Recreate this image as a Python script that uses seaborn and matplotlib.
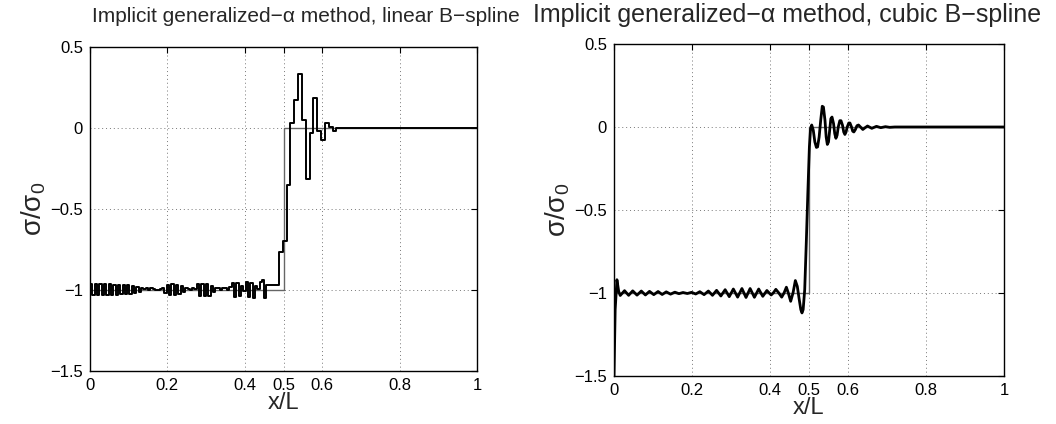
import matplotlib
matplotlib.use("Agg")
import matplotlib.pyplot as plt
import pandas as pd
import seaborn as sns
from matplotlib.ticker import FixedLocator, FuncFormatter

# exact solution (step at x/L = 0.5)
exact_x = [0.0, 0.5, 1.0]
exact_y = [-1.0, 0.0, 0.0]

# linear B-spline: piecewise constant stress, cell left edges and values
lin_edges = [
    0.000, 0.006, 0.012, 0.018, 0.024, 0.030, 0.036, 0.042, 0.048, 0.054,
    0.060, 0.066, 0.072, 0.078, 0.084, 0.090, 0.096, 0.102, 0.108, 0.114,
    0.120, 0.126, 0.132,
    0.138, 0.144, 0.150, 0.156, 0.162, 0.168, 0.174, 0.180, 0.186,
    0.192, 0.198, 0.204, 0.210, 0.216, 0.222, 0.228, 0.234, 0.240, 0.246,
    0.252, 0.258, 0.264, 0.270,
    0.276, 0.282, 0.288, 0.294, 0.300, 0.306, 0.312, 0.318, 0.324,
    0.330, 0.336, 0.342, 0.348, 0.354, 0.360,
    0.366, 0.372, 0.378, 0.384, 0.390, 0.396, 0.402, 0.408, 0.414, 0.420,
    0.426, 0.432, 0.438, 0.444, 0.450,
    0.456, 0.489, 0.499, 0.510, 0.518, 0.527, 0.538, 0.548, 0.559, 0.568,
    0.577, 0.587, 0.596, 0.607, 0.618, 0.629, 0.636, 0.655, 0.670, 1.000,
]
lin_vals = [
    -0.965, -1.030, -0.965, -1.030, -0.965, -1.030, -0.965, -1.030, -0.966, -1.029,
    -0.967, -1.028, -0.968, -1.027, -0.970, -1.025, -0.972, -1.022, -0.975, -1.020,
    -0.980, -1.012, -0.988,
    -0.995, -0.990, -1.000, -0.988, -0.995, -1.000, -1.003, -0.992, -0.985,
    -1.020, -0.968, -1.032, -0.965, -1.032, -0.970, -1.025, -0.978, -1.012, -0.990,
    -0.995, -1.000, -0.990, -0.995,
    -0.965, -1.035, -0.960, -1.040, -0.962, -1.035, -0.975, -1.015, -0.990,
    -0.985, -1.000, -0.990, -0.985, -1.000, -0.982,
    -0.955, -1.042, -0.958, -1.040, -0.975, -1.005, -0.950, -1.045, -0.955, -1.050,
    -0.975, -0.995, -0.950, -0.940, -1.050,
    -0.968, -0.764, -0.696, -0.350, 0.030, 0.174, 0.333, 0.050, -0.313, -0.029,
    0.188, -0.019, -0.075, 0.033, 0.008, -0.020, 0.003, -0.002, 0.000, 0.000,
]

# cubic B-spline: smooth stress
cub_x = [
    0.000, 0.003, 0.0075, 0.012, 0.016, 0.027, 0.0375, 0.048, 0.059, 0.070,
    0.0805, 0.091, 0.102, 0.113, 0.1235, 0.134, 0.145, 0.156, 0.1665, 0.177,
    0.188, 0.199, 0.2095, 0.220, 0.231, 0.242, 0.2525, 0.263, 0.274, 0.285,
    0.2955, 0.306, 0.317, 0.328, 0.3385, 0.349, 0.360, 0.371, 0.3815, 0.392,
    0.403, 0.409, 0.415, 0.422, 0.430, 0.436, 0.442, 0.447, 0.453, 0.459,
    0.465, 0.470, 0.475, 0.479, 0.482, 0.485, 0.489, 0.493, 0.497, 0.501,
    0.504, 0.507, 0.511, 0.515, 0.519, 0.522, 0.526, 0.530, 0.534, 0.537,
    0.541, 0.544, 0.547, 0.550, 0.553, 0.556, 0.559, 0.563, 0.566, 0.569,
    0.572, 0.575, 0.579, 0.582, 0.586, 0.589, 0.592, 0.595, 0.598, 0.602,
    0.605, 0.609, 0.612, 0.615, 0.619, 0.623, 0.627, 0.632, 0.638, 0.644,
    0.650, 0.661, 0.673, 0.684, 0.696, 0.707, 0.720, 1.000,
]
cub_y = [
    -1.500, -1.100, -0.920, -0.990, -1.015, -0.986, -1.014, -0.987, -1.013, -0.988,
    -1.012, -0.990, -1.010, -0.991, -1.009, -0.993, -1.007, -0.995, -1.004, -0.997,
    -1.003, -0.996, -1.006, -0.992, -1.010, -0.988, -1.014, -0.984, -1.018, -0.980,
    -1.022, -0.976, -1.025, -0.973, -1.027, -0.973, -1.026, -0.976, -1.020, -0.985,
    -1.012, -0.998, -0.978, -0.998, -1.025, -1.000, -0.965, -1.000, -1.050, -1.000,
    -0.925, -0.960, -1.040, -1.100, -1.120, -1.100, -0.980, -0.700, -0.400, -0.120,
    -0.010, 0.012, -0.020, -0.090, -0.123, -0.120, -0.060, 0.040, 0.125, 0.120,
    0.040, -0.060, -0.105, -0.090, -0.020, 0.050, 0.060, 0.020, -0.040, -0.068,
    -0.050, 0.000, 0.038, 0.038, 0.010, -0.030, -0.045, -0.030, 0.000, 0.024,
    0.024, 0.000, -0.025, -0.030, -0.015, 0.008, 0.012, 0.000, -0.015, -0.004,
    0.006, -0.008, 0.004, -0.004, 0.002, -0.002, 0.000, 0.000,
]

x_ticks = [0, 0.2, 0.4, 0.5, 0.6, 0.8, 1]
y_ticks = [-1.5, -1, -0.5, 0, 0.5]
titles = [
    "Implicit generalized\u2212\u03b1 method, linear B\u2212spline",
    "Implicit generalized\u2212\u03b1 method, cubic B\u2212spline",
]

sns.set_theme(style="white")
plt.rcParams["font.family"] = ["Liberation Sans", "DejaVu Sans"]
plt.rcParams["mathtext.fontset"] = "custom"
plt.rcParams["mathtext.rm"] = "Liberation Sans"
plt.rcParams["mathtext.it"] = "Liberation Sans:italic"


def matlab_fmt(v, _pos):
    return f"{v:g}".replace("-", "\u2212")


def style_axes(ax):
    ax.set_xlim(0, 1)
    ax.set_ylim(-1.5, 0.5)
    ax.xaxis.set_major_locator(FixedLocator(x_ticks))
    ax.yaxis.set_major_locator(FixedLocator(y_ticks))
    ax.xaxis.set_major_formatter(FuncFormatter(matlab_fmt))
    ax.yaxis.set_major_formatter(FuncFormatter(matlab_fmt))
    ax.grid(True, color="#777777", linestyle=(0, (1, 3)), linewidth=0.7)
    ax.tick_params(direction="in", length=4, width=0.8, top=True, right=True,
                   labelsize=12, colors="black", pad=5)
    for s in ax.spines.values():
        s.set_color("black")
        s.set_linewidth(1.0)
    ax.set_xlabel("x/L", fontsize=17, labelpad=-1)
    ax.set_ylabel("\u03c3/\u03c3$_0$", fontsize=20, labelpad=2)


fig = plt.figure(figsize=(10.56, 4.24), dpi=100)
ax1 = fig.add_axes([90 / 1056, 53 / 424, 387 / 1056, 324 / 424])
ax2 = fig.add_axes([614 / 1056, 48 / 424, 390 / 1056, 332 / 424])

ex = pd.DataFrame({"x": exact_x, "y": exact_y})
lin = pd.DataFrame({"x": lin_edges, "y": lin_vals})
cub = pd.DataFrame({"x": cub_x, "y": cub_y})

for ax in (ax1, ax2):
    sns.lineplot(data=ex, x="x", y="y", ax=ax, color="#666666", linewidth=1.0,
                 drawstyle="steps-post", sort=False, estimator=None)

sns.lineplot(data=lin, x="x", y="y", ax=ax1, color="black", linewidth=1.4,
             drawstyle="steps-post", sort=False, estimator=None)
sns.lineplot(data=cub, x="x", y="y", ax=ax2, color="black", linewidth=2.0,
             sort=False, estimator=None)

style_axes(ax1)
style_axes(ax2)

fig.text(306 / 1056, 1 - 17 / 424, titles[0], ha="center", va="center", fontsize=15)
fig.text(787 / 1056, 1 - 15 / 424, titles[1], ha="center", va="center", fontsize=18)

fig.savefig("out.png", dpi=100)
